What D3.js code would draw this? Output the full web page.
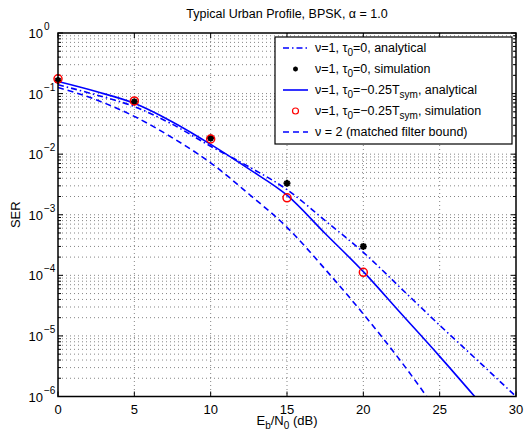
<!DOCTYPE html>
<html><head><meta charset="utf-8">
<script src="https://cdn.jsdelivr.net/npm/d3@7"></script>
<style>
body{margin:0;background:#fff;}
text{font-family:"Liberation Sans",Arial,Helvetica,sans-serif;fill:#000;}
</style></head>
<body><svg id="c" width="528" height="435"></svg>
<script>
// ---- data ----
const snrDb = [0, 2.5, 5, 7.5, 10, 12.5, 15, 17.5, 20, 22.5, 25, 27.5, 30];
const serTau0Analytical = [0.14, 0.095, 0.061, 0.031, 0.0135, 0.0062, 0.0026, 8.0e-4, 2.4e-4, 6.0e-5, 1.5e-5, 3.9e-6, 1.0e-6];
const serTauQuarterAnalytical = [0.158, 0.108, 0.069, 0.034, 0.0145, 0.0057, 0.0021, 4.9e-4, 1.15e-4, 2.3e-5, 4.6e-6, 8.7e-7, null];
const serMatchedFilterBound = [0.126, 0.079, 0.042, 0.0186, 0.0072, 0.0022, 6.2e-4, 1.26e-4, 2.3e-5, 3.7e-6, 5.0e-7, null, null];
const simSnrDb = [0, 5, 10, 15, 20];
const serTau0Sim = [0.165, 0.073, 0.0185, 0.0033, 3.0e-4];
const serTauQuarterSim = [0.175, 0.0755, 0.0178, 0.0019, 1.12e-4];
const xTicks = [0, 5, 10, 15, 20, 25, 30];
const yTicks = [1, 1e-1, 1e-2, 1e-3, 1e-4, 1e-5, 1e-6];
const yExponents = ["0", "\u22121", "\u22122", "\u22123", "\u22124", "\u22125", "\u22126"];

const L = 58, R = 516, T = 33, B = 396.5;
const svg = d3.select("#c");
const x = d3.scaleLinear().domain([0, 30]).range([L, R]);
const y = d3.scaleLog().domain([1e-6, 1]).range([B, T]);

// grid
const minorY = [];
for (let e = -6; e < 0; e++) for (let m = 1; m <= 9; m++) minorY.push(m * Math.pow(10, e));
minorY.push(1);
const g = svg.append("g");
g.selectAll("line.gy").data(minorY.filter(v => v > 1e-6 && v < 1)).enter().append("line")
  .attr("x1", L).attr("x2", R).attr("y1", d => y(d)).attr("y2", d => y(d))
  .attr("stroke", "#666").attr("stroke-width", 0.8).attr("stroke-dasharray", "1,3");
g.selectAll("line.gx").data(xTicks.filter(v => v > 0 && v < 30)).enter().append("line")
  .attr("x1", d => x(d)).attr("x2", d => x(d)).attr("y1", T).attr("y2", B)
  .attr("stroke", "#666").attr("stroke-width", 0.8).attr("stroke-dasharray", "1,3");

// ticks inside
const tk = svg.append("g").attr("stroke", "#000").attr("stroke-width", 1);
xTicks.forEach(v => {
  tk.append("line").attr("x1", x(v)).attr("x2", x(v)).attr("y1", B).attr("y2", B - 5);
  tk.append("line").attr("x1", x(v)).attr("x2", x(v)).attr("y1", T).attr("y2", T + 5);
});
minorY.forEach(v => {
  const len = (Math.abs(Math.log10(v) - Math.round(Math.log10(v))) < 1e-9) ? 5 : 3;
  tk.append("line").attr("x1", L).attr("x2", L + len).attr("y1", y(v)).attr("y2", y(v));
  tk.append("line").attr("x1", R).attr("x2", R - len).attr("y1", y(v)).attr("y2", y(v));
});

// clip
svg.append("clipPath").attr("id", "pc").append("rect").attr("x", L).attr("y", T).attr("width", R - L).attr("height", B - T);

function series(vals) { return snrDb.map((s, i) => [s, vals[i]]); }
const line = d3.line().defined(d => d[1] != null).x(d => x(d[0])).y(d => y(d[1])).curve(d3.curveMonotoneX);
const lines = svg.append("g").attr("clip-path", "url(#pc)");
lines.append("path").attr("d", line(series(serMatchedFilterBound))).attr("fill", "none")
  .attr("stroke", "#0000ff").attr("stroke-width", 1.6).attr("stroke-dasharray", "6,4");
lines.append("path").attr("d", line(series(serTau0Analytical))).attr("fill", "none")
  .attr("stroke", "#0000ff").attr("stroke-width", 1.6).attr("stroke-dasharray", "6,3,1.5,3");
lines.append("path").attr("d", line(series(serTauQuarterAnalytical))).attr("fill", "none")
  .attr("stroke", "#0000ff").attr("stroke-width", 1.6);

// markers
function star(cx, cy, r) {
  const a = r * 0.707;
  return `M${cx - r},${cy}L${cx + r},${cy}M${cx},${cy - r}L${cx},${cy + r}M${cx - a},${cy - a}L${cx + a},${cy + a}M${cx - a},${cy + a}L${cx + a},${cy - a}`;
}
const mk = svg.append("g");
simSnrDb.forEach((s, i) => {
  mk.append("path").attr("d", star(x(s), y(serTau0Sim[i]), 3.5)).attr("stroke", "#000").attr("stroke-width", 2).attr("fill", "none");
});
simSnrDb.forEach((s, i) => {
  mk.append("circle").attr("cx", x(s)).attr("cy", y(serTauQuarterSim[i])).attr("r", 4)
    .attr("fill", "none").attr("stroke", "#ff0000").attr("stroke-width", 1.5);
});

// frame
svg.append("rect").attr("x", L).attr("y", T).attr("width", R - L).attr("height", B - T)
  .attr("fill", "none").attr("stroke", "#000").attr("stroke-width", 1.5);

// tick labels
xTicks.forEach(v => {
  svg.append("text").attr("x", x(v)).attr("y", B + 17).attr("text-anchor", "middle")
    .attr("font-size", 13).text(v);
});
yTicks.forEach((v, i) => {
  const t = svg.append("text").attr("x", 43).attr("y", y(v) + 5).attr("text-anchor", "end").attr("font-size", 13);
  t.text("10");
  svg.append("text").attr("x", 44).attr("y", y(v) - 3).attr("font-size", 10).text(yExponents[i]);
});

// axis titles
const xl = svg.append("text").attr("x", (L + R) / 2).attr("y", 425).attr("text-anchor", "middle").attr("font-size", 13);
xl.append("tspan").text("E");
xl.append("tspan").attr("font-size", 10).attr("dy", 4).text("b");
xl.append("tspan").attr("dy", -4).text("/N");
xl.append("tspan").attr("font-size", 10).attr("dy", 4).text("0");
xl.append("tspan").attr("dy", -4).text(" (dB)");
svg.append("text").attr("transform", `translate(20,${(T + B) / 2}) rotate(-90)`).attr("text-anchor", "middle")
  .attr("font-size", 13).text("SER");
svg.append("text").attr("x", (L + R) / 2).attr("y", 18).attr("text-anchor", "middle").attr("font-size", 12.5)
  .text("Typical Urban Profile, BPSK, \u03b1 = 1.0");

// legend
const lx = 275, ly = 37, lw = 237, lh = 107;
const lg = svg.append("g");
lg.append("rect").attr("x", lx).attr("y", ly).attr("width", lw).attr("height", lh)
  .attr("fill", "#fff").attr("stroke", "#000").attr("stroke-width", 1.2);
const rowH = 21, r0 = ly + 11;
const entries = [
  { type: "dashdot", parts: [["\u03bd=1, \u03c4", 0], ["0", 1], ["=0, analytical", 0]] },
  { type: "star", parts: [["\u03bd=1, \u03c4", 0], ["0", 1], ["=0, simulation", 0]] },
  { type: "solid", parts: [["\u03bd=1, \u03c4", 0], ["0", 1], ["=\u22120.25T", 0], ["sym", 1], [", analytical", 0]] },
  { type: "circle", parts: [["\u03bd=1, \u03c4", 0], ["0", 1], ["=\u22120.25T", 0], ["sym", 1], [", simulation", 0]] },
  { type: "dash", parts: [["\u03bd = 2 (matched filter bound)", 0]] }
];
entries.forEach((e, i) => {
  const cy = r0 + i * rowH;
  const sx1 = 283, sx2 = 308;
  if (e.type === "dashdot") lg.append("line").attr("x1", sx1).attr("x2", sx2).attr("y1", cy).attr("y2", cy)
    .attr("stroke", "#0000ff").attr("stroke-width", 1.6).attr("stroke-dasharray", "6,3,1.5,3");
  if (e.type === "solid") lg.append("line").attr("x1", sx1).attr("x2", sx2).attr("y1", cy).attr("y2", cy)
    .attr("stroke", "#0000ff").attr("stroke-width", 1.6);
  if (e.type === "dash") lg.append("line").attr("x1", sx1).attr("x2", sx2).attr("y1", cy).attr("y2", cy)
    .attr("stroke", "#0000ff").attr("stroke-width", 1.6).attr("stroke-dasharray", "6,4");
  if (e.type === "star") lg.append("path").attr("d", star((sx1 + sx2) / 2, cy, 2.5)).attr("stroke", "#000").attr("stroke-width", 1.5);
  if (e.type === "circle") lg.append("circle").attr("cx", (sx1 + sx2) / 2).attr("cy", cy).attr("r", 3)
    .attr("fill", "none").attr("stroke", "#ff0000").attr("stroke-width", 1.2);
  const t = lg.append("text").attr("x", 315).attr("y", cy + 4).attr("font-size", 12.5);
  let sub = 0;
  e.parts.forEach(p => {
    const ts = t.append("tspan").text(p[0]);
    if (p[1] && !sub) { ts.attr("dy", 4).attr("font-size", 10); sub = 1; }
    else if (!p[1] && sub) { ts.attr("dy", -4); sub = 0; }
  });
});
</script></body></html>
